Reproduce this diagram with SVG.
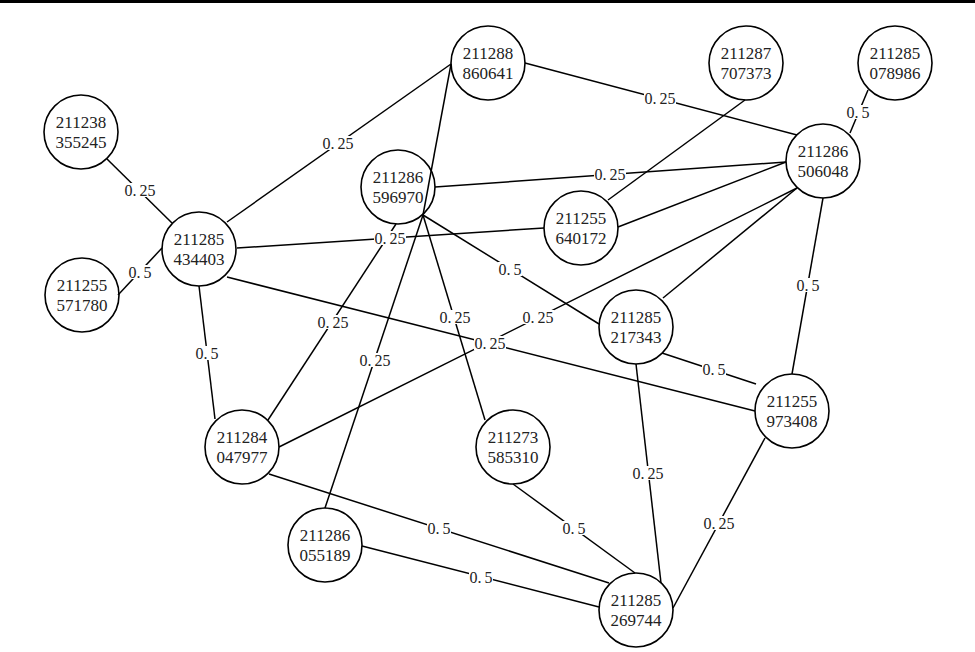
<svg xmlns="http://www.w3.org/2000/svg" width="975" height="652" viewBox="0 0 975 652">
<style>
.node circle{fill:#fff;stroke:#000;stroke-width:1.6}
.node text{font-family:"Liberation Serif","DejaVu Serif",serif;font-size:17px;fill:#222;text-anchor:middle}
.edges line{stroke:#000;stroke-width:1.5}
.lbl rect{fill:#fff}
.lbl text{font-family:"Liberation Serif","DejaVu Serif",serif;font-size:16px;fill:#222;text-anchor:middle}
</style>
<rect x="0" y="0" width="975" height="3" fill="#000"/>
<g id="nodes">
<g id="n211238355245" class="node"><circle cx="81" cy="132" r="37"/><text x="81" y="128">211238</text><text x="81" y="148">355245</text></g>
<g id="n211255571780" class="node"><circle cx="82" cy="295" r="37"/><text x="82" y="291">211255</text><text x="82" y="311">571780</text></g>
<g id="n211285434403" class="node"><circle cx="199" cy="249" r="37"/><text x="199" y="245">211285</text><text x="199" y="265">434403</text></g>
<g id="n211288860641" class="node"><circle cx="488" cy="63" r="37"/><text x="488" y="59">211288</text><text x="488" y="79">860641</text></g>
<g id="n211286596970" class="node"><circle cx="398" cy="187" r="37"/><text x="398" y="183">211286</text><text x="398" y="203">596970</text></g>
<g id="n211255640172" class="node"><circle cx="581" cy="228" r="37"/><text x="581" y="224">211255</text><text x="581" y="244">640172</text></g>
<g id="n211287707373" class="node"><circle cx="746" cy="63" r="37"/><text x="746" y="59">211287</text><text x="746" y="79">707373</text></g>
<g id="n211285078986" class="node"><circle cx="895" cy="63" r="37"/><text x="895" y="59">211285</text><text x="895" y="79">078986</text></g>
<g id="n211286506048" class="node"><circle cx="823" cy="161" r="37"/><text x="823" y="157">211286</text><text x="823" y="177">506048</text></g>
<g id="n211285217343" class="node"><circle cx="636" cy="327" r="37"/><text x="636" y="323">211285</text><text x="636" y="343">217343</text></g>
<g id="n211255973408" class="node"><circle cx="792" cy="411" r="37"/><text x="792" y="407">211255</text><text x="792" y="427">973408</text></g>
<g id="n211284047977" class="node"><circle cx="242" cy="447" r="37"/><text x="242" y="443">211284</text><text x="242" y="463">047977</text></g>
<g id="n211273585310" class="node"><circle cx="513" cy="447" r="37"/><text x="513" y="443">211273</text><text x="513" y="463">585310</text></g>
<g id="n211286055189" class="node"><circle cx="325" cy="545" r="37"/><text x="325" y="541">211286</text><text x="325" y="561">055189</text></g>
<g id="n211285269744" class="node"><circle cx="636" cy="610" r="37"/><text x="636" y="606">211285</text><text x="636" y="626">269744</text></g>
</g>
<g id="connectors" class="edges">
<line x1="107" y1="159" x2="172" y2="223"/>
<line x1="118" y1="295" x2="162" y2="248"/>
<line x1="227" y1="222" x2="451" y2="64"/>
<line x1="237" y1="248" x2="544" y2="228"/>
<line x1="227" y1="277" x2="755" y2="411"/>
<line x1="199" y1="286" x2="215" y2="419"/>
<line x1="451" y1="64" x2="423" y2="215"/>
<line x1="525" y1="63" x2="797" y2="135"/>
<line x1="435" y1="187" x2="786" y2="162"/>
<line x1="423" y1="215" x2="599" y2="324"/>
<line x1="423" y1="215" x2="485" y2="420"/>
<line x1="423" y1="215" x2="325" y2="508"/>
<line x1="396" y1="224" x2="268" y2="420"/>
<line x1="745" y1="100" x2="608" y2="200"/>
<line x1="618" y1="227" x2="786" y2="162"/>
<line x1="868" y1="90" x2="850" y2="133"/>
<line x1="797" y1="188" x2="663" y2="298"/>
<line x1="797" y1="188" x2="279" y2="447"/>
<line x1="823" y1="198" x2="792" y2="374"/>
<line x1="662" y1="353" x2="756" y2="384"/>
<line x1="636" y1="364" x2="661" y2="583"/>
<line x1="765" y1="438" x2="673" y2="608"/>
<line x1="269" y1="474" x2="609" y2="583"/>
<line x1="362" y1="546" x2="599" y2="607"/>
<line x1="513" y1="484" x2="635" y2="573"/>
<g id="labels" class="lbl">
<rect x="124" y="183" width="32" height="14"/><text x="140" y="195.5">0.<tspan dx="3">25</tspan></text>
<rect x="128" y="265" width="24" height="14"/><text x="140" y="277.5">0.<tspan dx="3">5</tspan></text>
<rect x="322" y="136" width="32" height="14"/><text x="338" y="148.5">0.<tspan dx="3">25</tspan></text>
<rect x="374" y="231" width="32" height="14"/><text x="390" y="243.5">0.<tspan dx="3">25</tspan></text>
<rect x="474" y="336" width="32" height="14"/><text x="490" y="348.5">0.<tspan dx="3">25</tspan></text>
<rect x="195" y="346" width="24" height="14"/><text x="207" y="358.5">0.<tspan dx="3">5</tspan></text>
<rect x="644" y="91" width="32" height="14"/><text x="660" y="103.5">0.<tspan dx="3">25</tspan></text>
<rect x="594" y="167" width="32" height="14"/><text x="610" y="179.5">0.<tspan dx="3">25</tspan></text>
<rect x="498" y="262" width="24" height="14"/><text x="510" y="274.5">0.<tspan dx="3">5</tspan></text>
<rect x="439" y="310" width="32" height="14"/><text x="455" y="322.5">0.<tspan dx="3">25</tspan></text>
<rect x="359" y="353" width="32" height="14"/><text x="375" y="365.5">0.<tspan dx="3">25</tspan></text>
<rect x="317" y="315" width="32" height="14"/><text x="333" y="327.5">0.<tspan dx="3">25</tspan></text>
<rect x="846" y="105" width="24" height="14"/><text x="858" y="117.5">0.<tspan dx="3">5</tspan></text>
<rect x="522" y="310" width="32" height="14"/><text x="538" y="322.5">0.<tspan dx="3">25</tspan></text>
<rect x="796" y="278" width="24" height="14"/><text x="808" y="290.5">0.<tspan dx="3">5</tspan></text>
<rect x="702" y="362" width="24" height="14"/><text x="714" y="374.5">0.<tspan dx="3">5</tspan></text>
<rect x="632" y="466" width="32" height="14"/><text x="648" y="478.5">0.<tspan dx="3">25</tspan></text>
<rect x="703" y="516" width="32" height="14"/><text x="719" y="528.5">0.<tspan dx="3">25</tspan></text>
<rect x="427" y="521" width="24" height="14"/><text x="439" y="533.5">0.<tspan dx="3">5</tspan></text>
<rect x="469" y="570" width="24" height="14"/><text x="481" y="582.5">0.<tspan dx="3">5</tspan></text>
<rect x="562" y="521" width="24" height="14"/><text x="574" y="533.5">0.<tspan dx="3">5</tspan></text>
</g>
</g>
</svg>
